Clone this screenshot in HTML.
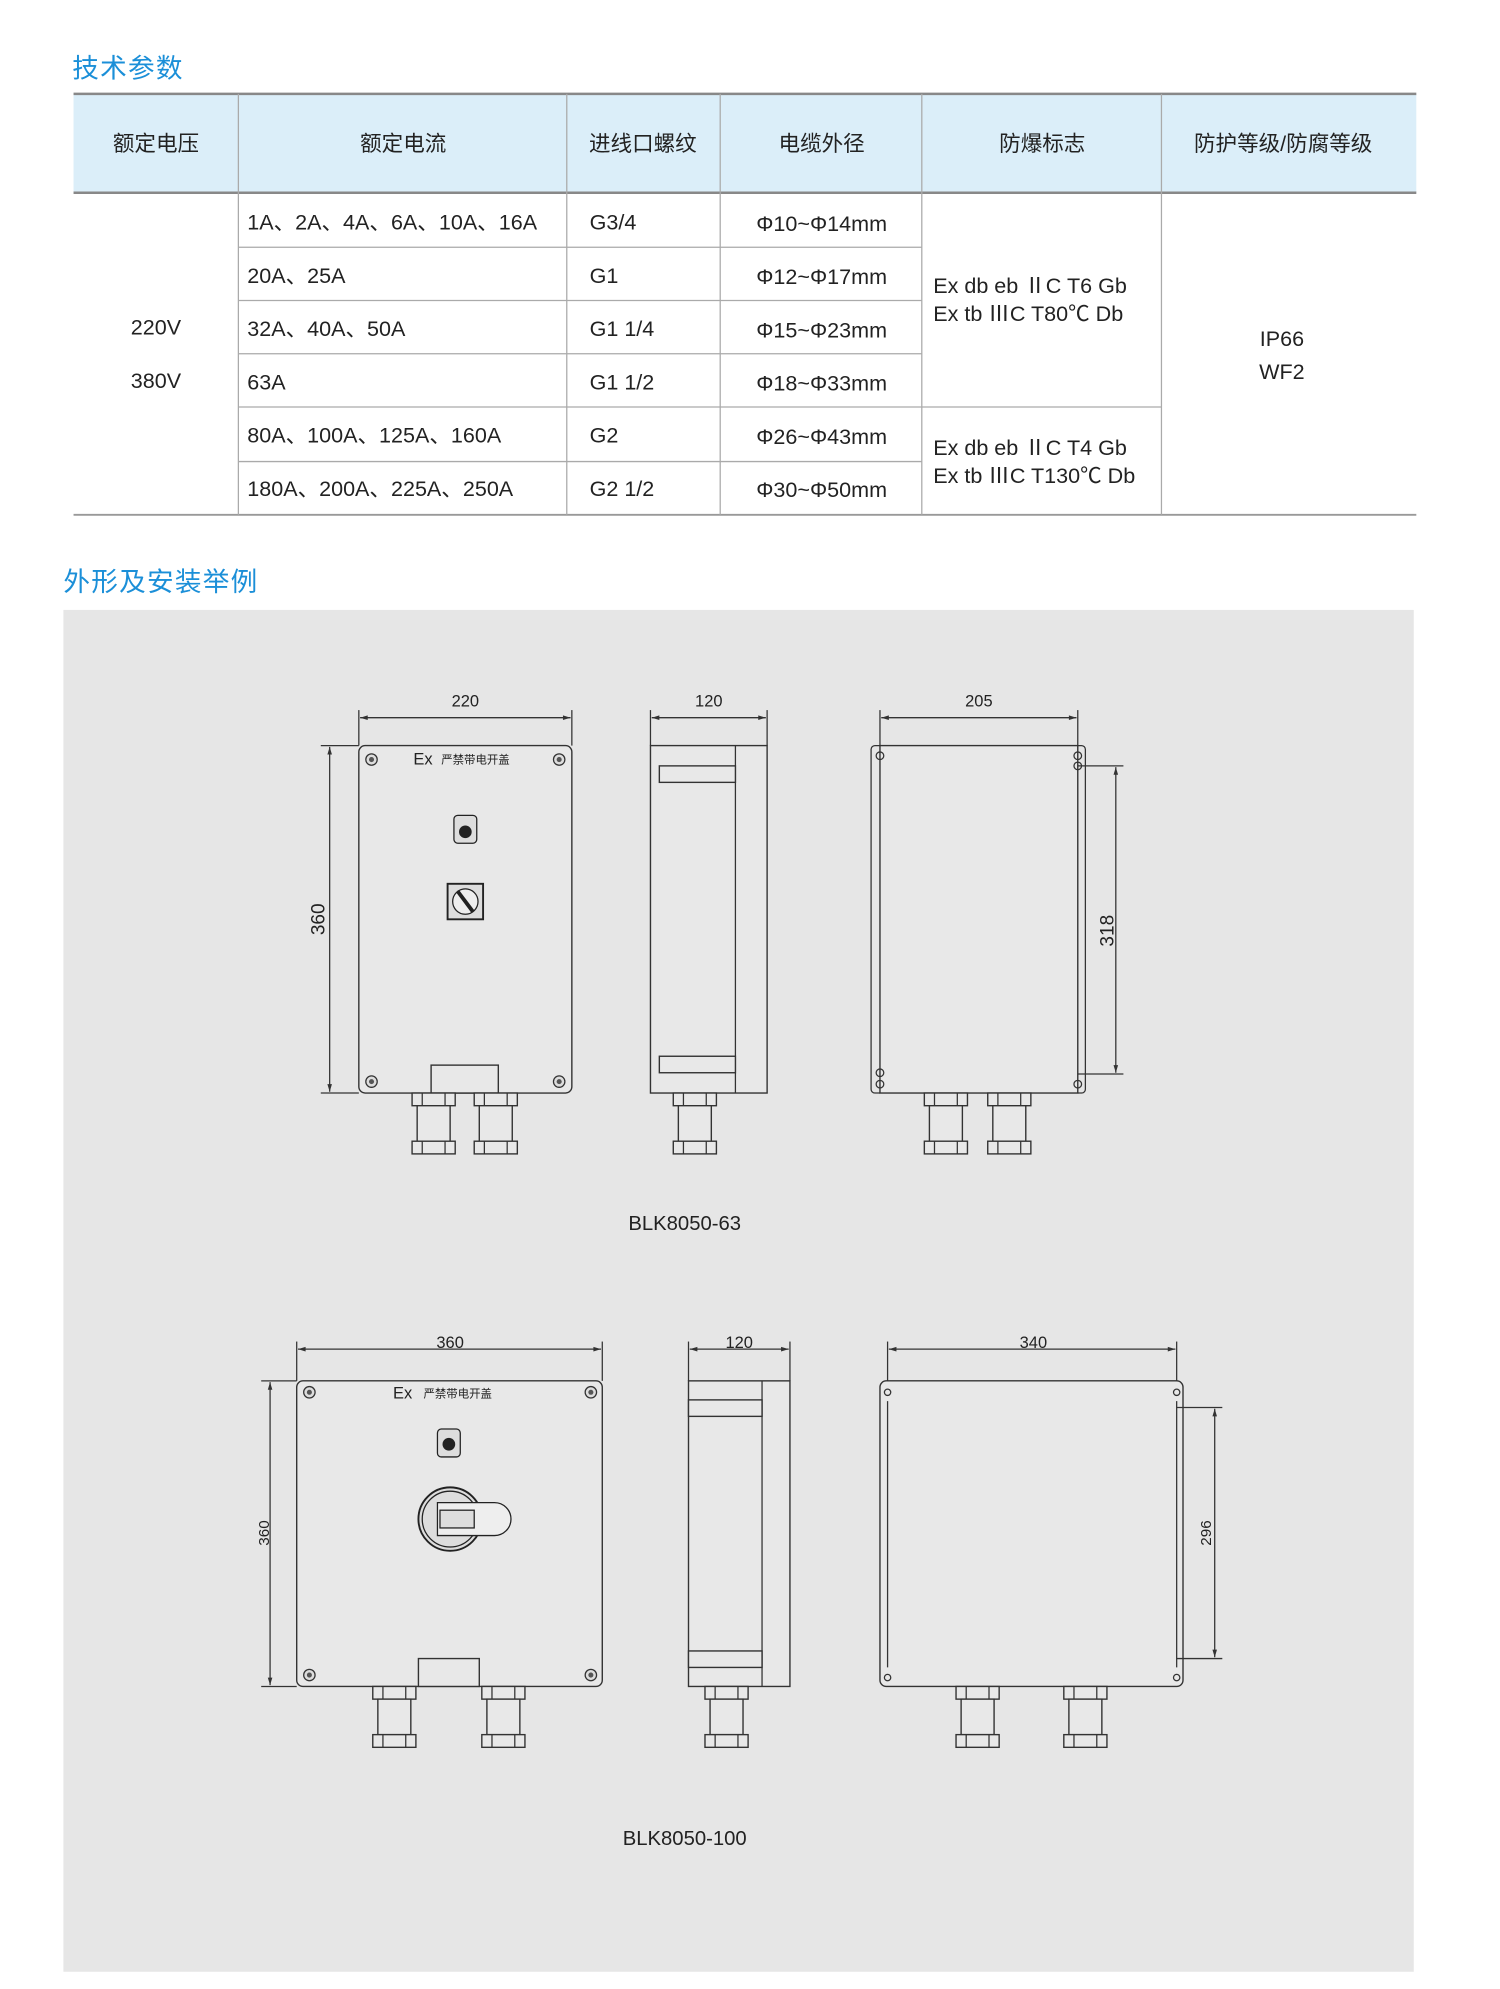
<!DOCTYPE html>
<html><head><meta charset="utf-8"><style>
html,body{margin:0;padding:0;background:#fff;}
svg{display:block}
text{font-family:"Liberation Sans","Noto Sans CJK SC",sans-serif;fill:#222;}
.t{font-size:17px}
.h{font-size:17px}
.ttl{font-size:21px;fill:#1b8fd8;letter-spacing:1px}
.d{fill:none;stroke:#333;stroke-width:1}
.bx{fill:#e8e8e8;stroke:#333;stroke-width:1.1}
.dim{font-size:13px}
</style></head><body>
<svg width="1500" height="1989" viewBox="0 0 1183 1568.6" preserveAspectRatio="none" xmlns="http://www.w3.org/2000/svg">
<defs>
<marker id="a" viewBox="0 0 10 10" refX="10" refY="5" markerWidth="9" markerHeight="6" orient="auto-start-reverse"><path d="M0,2 L10,5 L0,8z" fill="#333"/></marker>
<g id="gl">
<rect x="-17" y="0" width="34" height="10" class="bx"/><line x1="-9" y1="0" x2="-9" y2="10" class="d"/><line x1="9" y1="0" x2="9" y2="10" class="d"/>
<rect x="-13" y="10" width="26" height="28" class="bx"/>
<rect x="-17" y="38" width="34" height="10" class="bx"/><line x1="-9" y1="38" x2="-9" y2="48" class="d"/><line x1="9" y1="38" x2="9" y2="48" class="d"/>
</g>
<g id="sc"><circle r="4.5" fill="#ddd" stroke="#333"/><circle r="2" fill="#555"/></g>
</defs>
<text x="57" y="61" class="ttl">技术参数</text>
<rect x="58" y="74" width="1059" height="78" fill="#dbeef9"/>
<line x1="58" y1="74" x2="1117" y2="74" stroke="#888" stroke-width="2"/>
<line x1="58" y1="152" x2="1117" y2="152" stroke="#888" stroke-width="2"/>
<line x1="58" y1="406" x2="1117" y2="406" stroke="#999" stroke-width="1.5"/>
<g stroke="#aaa" stroke-width="1">
<line x1="188" y1="74" x2="188" y2="406"/><line x1="447" y1="74" x2="447" y2="406"/>
<line x1="568" y1="74" x2="568" y2="406"/><line x1="727" y1="74" x2="727" y2="406"/>
<line x1="916" y1="74" x2="916" y2="406"/>
<line x1="188" y1="195" x2="727" y2="195"/><line x1="188" y1="237" x2="727" y2="237"/>
<line x1="188" y1="279" x2="727" y2="279"/><line x1="188" y1="321" x2="916" y2="321"/>
<line x1="188" y1="364" x2="727" y2="364"/>
</g>
<g class="h" text-anchor="middle">
<text x="123" y="119">额定电压</text><text x="318" y="119">额定电流</text><text x="507" y="119">进线口螺纹</text>
<text x="648" y="119">电缆外径</text><text x="822" y="119">防爆标志</text><text x="1012" y="119">防护等级/防腐等级</text>
</g>
<g class="t">
<text x="123" y="264" text-anchor="middle">220V</text><text x="123" y="306" text-anchor="middle">380V</text>
<text x="195" y="181">1A、2A、4A、6A、10A、16A</text><text x="195" y="223">20A、25A</text>
<text x="195" y="265">32A、40A、50A</text><text x="195" y="307">63A</text>
<text x="195" y="349">80A、100A、125A、160A</text><text x="195" y="391">180A、200A、225A、250A</text>
<text x="465" y="181">G3/4</text><text x="465" y="223">G1</text><text x="465" y="265">G1 1/4</text>
<text x="465" y="307">G1 1/2</text><text x="465" y="349">G2</text><text x="465" y="391">G2 1/2</text>
<g text-anchor="middle"><text x="648" y="182">Φ10~Φ14mm</text><text x="648" y="224">Φ12~Φ17mm</text>
<text x="648" y="266">Φ15~Φ23mm</text><text x="648" y="308">Φ18~Φ33mm</text>
<text x="648" y="350">Φ26~Φ43mm</text><text x="648" y="392">Φ30~Φ50mm</text></g>
<text x="736" y="231">Ex db eb ⅡC T6 Gb</text><text x="736" y="253">Ex tb ⅢC T80℃ Db</text>
<text x="736" y="359">Ex db eb ⅡC T4 Gb</text><text x="736" y="381">Ex tb ⅢC T130℃ Db</text>
<text x="1011" y="273" text-anchor="middle">IP66</text><text x="1011" y="299" text-anchor="middle">WF2</text>
</g>
<text x="50" y="466" class="ttl">外形及安装举例</text>
<rect x="50" y="481" width="1065" height="1074" fill="#e6e6e6"/>

<g>
<line x1="283" y1="560" x2="283" y2="588" class="d"/><line x1="451" y1="560" x2="451" y2="588" class="d"/>
<line x1="284" y1="566" x2="450" y2="566" class="d" marker-start="url(#a)" marker-end="url(#a)"/>
<text x="367" y="557" class="dim" text-anchor="middle">220</text>
<line x1="253" y1="588" x2="283" y2="588" class="d"/><line x1="253" y1="862" x2="283" y2="862" class="d"/>
<line x1="260" y1="589" x2="260" y2="861" class="d" marker-start="url(#a)" marker-end="url(#a)"/>
<text transform="translate(256,725) rotate(-90)" font-size="15" text-anchor="middle">360</text>
<rect x="283" y="588" width="168" height="274" rx="5" class="bx"/>
<use href="#sc" x="293" y="599"/><use href="#sc" x="441" y="599"/><use href="#sc" x="293" y="853"/><use href="#sc" x="441" y="853"/>
<text x="326" y="603" font-size="13">Ex</text><text x="348" y="602" font-size="9">严禁带电开盖</text>
<rect x="358" y="643" width="18" height="22" rx="3" fill="#ddd" stroke="#222"/><circle cx="367" cy="656" r="5" fill="#222"/>
<rect x="353" y="697" width="28" height="28" fill="#ddd" stroke="#222" stroke-width="1.5"/><circle cx="367" cy="711" r="10" fill="#eee" stroke="#222"/><line x1="361" y1="703" x2="373" y2="719" stroke="#222" stroke-width="3"/>
<rect x="340" y="840" width="53" height="22" class="bx"/>
<use href="#gl" x="342" y="862"/><use href="#gl" x="391" y="862"/>

<line x1="513" y1="560" x2="513" y2="588" class="d"/><line x1="605" y1="560" x2="605" y2="588" class="d"/>
<line x1="514" y1="566" x2="604" y2="566" class="d" marker-start="url(#a)" marker-end="url(#a)"/>
<text x="559" y="557" class="dim" text-anchor="middle">120</text>
<rect x="513" y="588" width="92" height="274" class="bx"/><line x1="580" y1="588" x2="580" y2="862" class="d"/>
<rect x="520" y="604" width="60" height="13" class="bx"/><rect x="520" y="833" width="60" height="13" class="bx"/>
<use href="#gl" x="548" y="862"/>

<line x1="694" y1="560" x2="694" y2="588" class="d"/><line x1="850" y1="560" x2="850" y2="588" class="d"/>
<line x1="695" y1="566" x2="849" y2="566" class="d" marker-start="url(#a)" marker-end="url(#a)"/>
<text x="772" y="557" class="dim" text-anchor="middle">205</text>
<rect x="694" y="588" width="156" height="274" class="bx"/>
<path d="M694,588 h-4 a3,3 0 0 0 -3,3 v268 a3,3 0 0 0 3,3 h4" class="d"/>
<path d="M850,588 h3 a3,3 0 0 1 3,3 v268 a3,3 0 0 1 -3,3 h-3" class="d"/>
<g class="d"><circle cx="694" cy="596" r="3"/><circle cx="694" cy="855" r="3"/><circle cx="850" cy="596" r="3"/><circle cx="850" cy="604" r="3"/><circle cx="850" cy="855" r="3"/><circle cx="694" cy="846" r="3"/></g>
<line x1="850" y1="604" x2="886" y2="604" class="d"/><line x1="850" y1="847" x2="886" y2="847" class="d"/>
<line x1="880" y1="605" x2="880" y2="846" class="d" marker-start="url(#a)" marker-end="url(#a)"/>
<text transform="translate(878,734) rotate(-90)" font-size="15" text-anchor="middle">318</text>
<use href="#gl" x="746" y="862"/><use href="#gl" x="796" y="862"/>
<text x="540" y="970" font-size="16" text-anchor="middle">BLK8050-63</text>
</g>

<g>
<line x1="234" y1="1058" x2="234" y2="1089" class="d"/><line x1="475" y1="1058" x2="475" y2="1089" class="d"/>
<line x1="235" y1="1064" x2="474" y2="1064" class="d" marker-start="url(#a)" marker-end="url(#a)"/>
<text x="355" y="1063" class="dim" text-anchor="middle">360</text>
<line x1="206" y1="1089" x2="234" y2="1089" class="d"/><line x1="206" y1="1330" x2="234" y2="1330" class="d"/>
<line x1="213" y1="1090" x2="213" y2="1329" class="d" marker-start="url(#a)" marker-end="url(#a)"/>
<text transform="translate(212,1209) rotate(-90)" font-size="12" text-anchor="middle">360</text>
<rect x="234" y="1089" width="241" height="241" rx="5" class="bx"/>
<use href="#sc" x="244" y="1098"/><use href="#sc" x="466" y="1098"/><use href="#sc" x="244" y="1321"/><use href="#sc" x="466" y="1321"/>
<text x="310" y="1103" font-size="13">Ex</text><text x="334" y="1102" font-size="9">严禁带电开盖</text>
<rect x="345" y="1127" width="18" height="22" rx="3" fill="#ddd" stroke="#222"/><circle cx="354" cy="1139" r="5" fill="#222"/>
<circle cx="355" cy="1198" r="25" fill="#ddd" stroke="#222" stroke-width="1.5"/><circle cx="355" cy="1198" r="22" fill="none" stroke="#222"/>
<path d="M345,1185 h45 a13,13 0 0 1 0,26 h-45 z" fill="#eee" stroke="#222"/><rect x="347" y="1191" width="27" height="14" fill="#ddd" stroke="#222"/>
<rect x="330" y="1308" width="48" height="22" class="bx"/>
<use href="#gl" x="311" y="1330"/><use href="#gl" x="397" y="1330"/>

<line x1="543" y1="1058" x2="543" y2="1089" class="d"/><line x1="623" y1="1058" x2="623" y2="1089" class="d"/>
<line x1="544" y1="1064" x2="622" y2="1064" class="d" marker-start="url(#a)" marker-end="url(#a)"/>
<text x="583" y="1063" class="dim" text-anchor="middle">120</text>
<rect x="543" y="1089" width="80" height="241" class="bx"/><line x1="601" y1="1089" x2="601" y2="1330" class="d"/>
<rect x="543" y="1104" width="58" height="13" class="bx"/><rect x="543" y="1302" width="58" height="13" class="bx"/>
<use href="#gl" x="573" y="1330"/>

<line x1="700" y1="1058" x2="700" y2="1089" class="d"/><line x1="928" y1="1058" x2="928" y2="1089" class="d"/>
<line x1="701" y1="1064" x2="927" y2="1064" class="d" marker-start="url(#a)" marker-end="url(#a)"/>
<text x="815" y="1063" class="dim" text-anchor="middle">340</text>
<rect x="694" y="1089" width="239" height="241" rx="5" class="bx"/>
<line x1="700" y1="1105" x2="700" y2="1315" class="d"/><line x1="928" y1="1105" x2="928" y2="1315" class="d"/>
<g class="d"><circle cx="700" cy="1098" r="2.5"/><circle cx="928" cy="1098" r="2.5"/><circle cx="700" cy="1323" r="2.5"/><circle cx="928" cy="1323" r="2.5"/></g>
<line x1="928" y1="1110" x2="964" y2="1110" class="d"/><line x1="928" y1="1308" x2="964" y2="1308" class="d"/>
<line x1="958" y1="1111" x2="958" y2="1307" class="d" marker-start="url(#a)" marker-end="url(#a)"/>
<text transform="translate(955,1209) rotate(-90)" font-size="12" text-anchor="middle">296</text>
<use href="#gl" x="771" y="1330"/><use href="#gl" x="856" y="1330"/>
<text x="540" y="1455" font-size="16" text-anchor="middle">BLK8050-100</text>
</g>
</svg>
</body></html>
